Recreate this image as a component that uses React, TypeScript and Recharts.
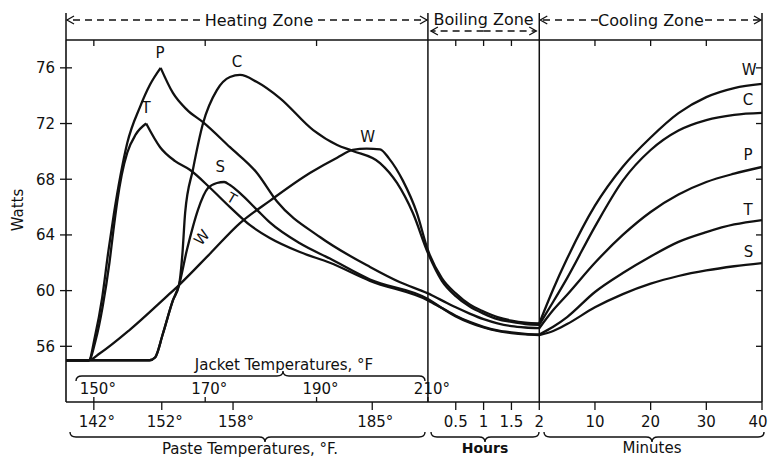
import { LineChart, Line, XAxis, YAxis, ReferenceLine } from 'recharts'

// x axis positions: heating zone in jacket °F, boiling zone = 210 + 10 * hours, cooling zone = 230 + minutes
const X_MIN = 145
const X_MAX = 270
const Y_MIN = 52
const Y_MAX = 78

const WATT_TICKS = [56, 60, 64, 68, 72, 76]
const JACKET_TICKS = [150, 170, 190, 210]
const PASTE_LABELS = ['142°', '152°', '158°', '185°']
const PASTE_AT_JACKET = [150, 162.2, 175, 200]
const HOUR_TICKS = [0.5, 1, 1.5, 2]
const MINUTE_TICKS = [10, 20, 30, 40]

const BOIL_HOURS = [0.25, 0.5, 0.75, 1, 1.25, 1.5, 1.75, 2]
const COOL_MINUTES = [0, 2.5, 5, 10, 15, 20, 25, 30, 35, 40]

// heating zone, jacket temperature (°F) -> watts
const P_HEAT_F = [145, 149.1, 150.2, 151.5, 152.6, 153.6, 154.8, 156.0, 158.3, 160.1, 162.0, 164.2, 166.7, 169.6, 174.45, 179.3, 182.9, 190.6, 199.6, 205.0, 210]
const P_HEAT_W = [55, 55, 56.7, 59.5, 62.8, 65.5, 68.3, 70.6, 73.2, 74.8, 76.0, 74.2, 73.0, 72.1, 70.3, 68.45, 66.4, 63.85, 61.7, 60.6, 59.8]
const T_HEAT_F = [145, 149.1, 150.3, 151.6, 152.8, 153.6, 154.2, 155.0, 156.0, 157.5, 159.4, 161.9, 164.6, 167.3, 170.9, 174.45, 178.05, 181.6, 187.0, 192.4, 199.6, 210]
const T_HEAT_W = [55, 55, 56.4, 58.9, 62.0, 64.6, 66.4, 68.3, 69.9, 71.2, 72.0, 70.3, 69.3, 68.66, 67.37, 66.0, 64.7, 63.78, 62.77, 62.0, 60.7, 59.3]
const C_HEAT_F = [145, 160.0, 161.0, 162.4, 164.2, 165.3, 165.9, 166.4, 167.8, 169.6, 172.1, 174.45, 176.25, 179.3, 183.4, 189.4, 193.7, 196.5, 201.4, 204.45, 207.3, 210]
const C_HEAT_W = [55, 55, 55.2, 56.9, 59.3, 60.4, 62.6, 65.6, 68.7, 72.0, 74.4, 75.34, 75.49, 74.98, 73.83, 71.53, 70.46, 70.03, 69.16, 67.73, 65.57, 62.7]
const S_HEAT_F = [145, 160.0, 161.0, 162.4, 164.2, 165.3, 166.7, 167.8, 168.7, 170.5, 172.1, 173.4, 174.45, 176.25, 179.3, 181.6, 187.0, 192.4, 199.6, 210]
const S_HEAT_W = [55, 55, 55.2, 56.9, 59.3, 60.4, 62.9, 64.6, 65.8, 67.37, 67.73, 67.8, 67.58, 67.0, 65.8, 64.9, 63.4, 62.3, 60.8, 59.4]
const W_HEAT_F = [145, 149.1, 151.1, 156.5, 163.0, 165.3, 170.9, 176.25, 181.6, 188.8, 193.7, 196.5, 199.0, 201.4, 203.0, 205.5, 208.0, 210]
const W_HEAT_W = [55, 55, 55.5, 57.2, 59.55, 60.4, 62.67, 64.85, 66.45, 68.45, 69.55, 70.1, 70.2, 70.15, 69.5, 67.9, 65.6, 62.9]

// boiling zone (hours) -> watts
const W_BOIL = [60.9, 59.8, 59.0, 58.5, 58.1, 57.85, 57.7, 57.65]
const C_BOIL = [60.7, 59.6, 58.85, 58.35, 57.95, 57.75, 57.6, 57.55]
const P_BOIL = [59.3, 58.8, 58.35, 57.95, 57.65, 57.45, 57.35, 57.3]
const T_BOIL = [58.75, 58.2, 57.75, 57.4, 57.15, 57.0, 56.9, 56.85]
const S_BOIL = [58.75, 58.15, 57.7, 57.35, 57.1, 56.95, 56.85, 56.8]

// cooling zone (minutes) -> watts
const W_COOL = [57.65, 60.1, 62.3, 66.1, 68.9, 71.0, 72.75, 73.9, 74.55, 74.85]
const C_COOL = [57.55, 59.2, 60.9, 64.6, 67.9, 70.1, 71.5, 72.25, 72.62, 72.76]
const P_COOL = [57.3, 58.6, 59.7, 62.0, 64.0, 65.65, 66.9, 67.8, 68.4, 68.88]
const T_COOL = [56.85, 57.4, 58.1, 59.9, 61.26, 62.45, 63.5, 64.2, 64.75, 65.07]
const S_COOL = [56.8, 57.1, 57.6, 58.8, 59.75, 60.5, 61.05, 61.45, 61.75, 61.98]

const boilPos = (h: number) => 210 + 10 * h
const coolPos = (m: number) => 230 + m

const CURVES = [
  { key: 'P', heatF: P_HEAT_F, heatW: P_HEAT_W, boil: P_BOIL, cool: P_COOL, peak: 162.0 },
  { key: 'T', heatF: T_HEAT_F, heatW: T_HEAT_W, boil: T_BOIL, cool: T_COOL, peak: 159.4 },
  { key: 'C', heatF: C_HEAT_F, heatW: C_HEAT_W, boil: C_BOIL, cool: C_COOL, peak: null },
  { key: 'S', heatF: S_HEAT_F, heatW: S_HEAT_W, boil: S_BOIL, cool: S_COOL, peak: null },
  { key: 'W', heatF: W_HEAT_F, heatW: W_HEAT_W, boil: W_BOIL, cool: W_COOL, peak: null },
]

// curve letters, placed in chart units
const CURVE_LABELS = [
  { t: 'P', x: 161.9, w: 77.05, r: 0, s: 15 },
  { t: 'C', x: 175.7, w: 76.4, r: 0, s: 15 },
  { t: 'T', x: 159.4, w: 73.1, r: 0, s: 15 },
  { t: 'W', x: 199.2, w: 71.0, r: 0, s: 15 },
  { t: 'S', x: 172.7, w: 68.9, r: 0, s: 15 },
  { t: 'T', x: 174.8, w: 66.65, r: 30, s: 14 },
  { t: 'W', x: 169.4, w: 63.8, r: -50, s: 15 },
  { t: 'W', x: 267.7, w: 75.85, r: 0, s: 15 },
  { t: 'C', x: 267.5, w: 73.7, r: 0, s: 15 },
  { t: 'P', x: 267.5, w: 69.75, r: 0, s: 15 },
  { t: 'T', x: 267.5, w: 65.8, r: 0, s: 15 },
  { t: 'S', x: 267.6, w: 62.8, r: 0, s: 15 },
]

const W = 770
const H = 457
const M = { top: 40, right: 8, bottom: 0, left: 0 }
const Y_AXIS_W = 66
const X_AXIS_H = 55
const PL = M.left + Y_AXIS_W
const PT = M.top
const PW = W - M.right - PL
const PH = H - M.bottom - X_AXIS_H - PT
const px = (x: number) => PL + ((x - X_MIN) / (X_MAX - X_MIN)) * PW
const py = (w: number) => PT + ((Y_MAX - w) / (Y_MAX - Y_MIN)) * PH

const INK = '#111'
const FONT = '"DejaVu Sans", sans-serif'

function segments(c: (typeof CURVES)[number]) {
  const hb = [
    ...c.heatF.map((f, i) => ({ x: f, w: c.heatW[i] })),
    ...BOIL_HOURS.map((h, i) => ({ x: boilPos(h), w: c.boil[i] })),
  ]
  const parts = c.peak == null ? [hb] : [hb.filter((p) => p.x <= c.peak!), hb.filter((p) => p.x >= c.peak!)]
  parts.push(COOL_MINUTES.map((m, i) => ({ x: coolPos(m), w: c.cool[i] })))
  return parts
}

function brace(x1: number, x2: number, xc: number, y: number, cuspUp: boolean) {
  const d = cuspUp ? -1 : 1
  return `M${x1},${y - 5 * d} Q${x1},${y} ${x1 + 6},${y} L${xc - 6},${y} Q${xc},${y} ${xc},${y + 5 * d} Q${xc},${y} ${xc + 6},${y} L${x2 - 6},${y} Q${x2},${y} ${x2},${y - 5 * d}`
}

function Arrow({ x1, x2, y }: { x1: number; x2: number; y: number }) {
  const s = x2 > x1 ? 1 : -1
  return (
    <g stroke={INK} strokeWidth={1.3} fill="none">
      <line x1={x1} y1={y} x2={x2} y2={y} strokeDasharray="7 5" />
      <path d={`M${x2 - s * 7},${y - 4} L${x2},${y} L${x2 - s * 7},${y + 4}`} />
    </g>
  )
}

function Overlay() {
  const zl = [px(X_MIN), px(210), px(230), px(X_MAX)]
  const txt = { fontFamily: FONT, fill: INK, textAnchor: 'middle' as const, dominantBaseline: 'central' as const }
  return (
    <svg width={W} height={H} style={{ position: 'absolute', left: 0, top: 0, pointerEvents: 'none' }}>
      {zl.map((x, i) => (
        <line key={i} x1={x} x2={x} y1={13} y2={PT} stroke={INK} strokeWidth={1.5} />
      ))}
      <Arrow x1={200} x2={zl[0] + 1} y={20} />
      <Arrow x1={318} x2={zl[1] - 1} y={20} />
      <text x={259} y={20} fontSize={16} {...txt}>Heating Zone</text>
      <text x={(zl[1] + zl[2]) / 2} y={19} fontSize={16} {...txt}>Boiling Zone</text>
      <Arrow x1={(zl[1] + zl[2]) / 2} x2={zl[1] + 3} y={31} />
      <Arrow x1={(zl[1] + zl[2]) / 2} x2={zl[2] - 3} y={31} />
      <Arrow x1={598} x2={zl[2] + 1} y={20} />
      <Arrow x1={705} x2={zl[3] - 1} y={20} />
      <text x={651} y={20} fontSize={16} {...txt}>Cooling Zone</text>

      <text x={18} y={210} fontSize={15} {...txt} transform="rotate(-90 18 210)">Watts</text>

      <text x={284} y={365} fontSize={15} {...txt}>Jacket Temperatures, °F</text>
      <path d={brace(76, 425, 283, 376, true)} stroke={INK} strokeWidth={1.4} fill="none" />

      <path d={brace(70, 425, 265, 437, false)} stroke={INK} strokeWidth={1.4} fill="none" />
      <path d={brace(431, 539, 485, 437, false)} stroke={INK} strokeWidth={1.4} fill="none" />
      <path d={brace(544, 764, 652, 437, false)} stroke={INK} strokeWidth={1.4} fill="none" />
      <text x={250} y={449} fontSize={15} {...txt}>Paste Temperatures, °F.</text>
      <text x={485} y={448} fontSize={14} fontWeight={700} {...txt}>Hours</text>
      <text x={652} y={448} fontSize={15} {...txt}>Minutes</text>

      {CURVE_LABELS.map((l, i) => (
        <text
          key={i}
          x={px(l.x)}
          y={py(l.w)}
          fontSize={l.s}
          {...txt}
          transform={l.r ? `rotate(${l.r} ${px(l.x)} ${py(l.w)})` : undefined}
        >
          {l.t}
        </text>
      ))}
    </svg>
  )
}

const BOTTOM_TICKS = [...PASTE_AT_JACKET, ...HOUR_TICKS.map(boilPos), ...MINUTE_TICKS.map(coolPos)]
const BOTTOM_LABELS = [...PASTE_LABELS, ...HOUR_TICKS.map(String), ...MINUTE_TICKS.map(String)]
const TOP_TICKS = [150, 170, 190, ...[0.5, 1, 1.5].map(boilPos), ...[10, 20, 30].map(coolPos)]

function BottomTick(props: any) {
  const { x, y, payload } = props
  const label = BOTTOM_LABELS[BOTTOM_TICKS.indexOf(payload.value)] ?? ''
  // degree labels: keep digits centred over the tick; last label pulled in from the edge
  const dx = label.endsWith('°') ? 3 : payload.value >= X_MAX ? -4 : 0
  return (
    <text x={x + dx} y={y} dy="0.71em" textAnchor="middle" fontSize={15} fontFamily={FONT} fill={INK}>
      {label}
    </text>
  )
}

function JacketTick(props: any) {
  const { x, y, payload } = props
  return (
    <text x={x + 4} y={y} textAnchor="middle" fontSize={15} fontFamily={FONT} fill={INK}>
      {`${payload.value}°`}
    </text>
  )
}

export default function App() {
  const tick = { fill: INK, fontSize: 15, fontFamily: FONT }
  const axisLine = { stroke: INK, strokeWidth: 1.6 }
  const tickLine = { stroke: INK, strokeWidth: 1.3 }
  return (
    <div style={{ position: 'absolute', left: 0, top: 0, width: W, height: H, background: '#fff' }}>
      <LineChart width={W} height={H} margin={M}>
        <XAxis
          xAxisId="b"
          type="number"
          dataKey="x"
          domain={[X_MIN, X_MAX]}
          allowDataOverflow
          ticks={BOTTOM_TICKS}
          interval={0}
          height={X_AXIS_H}
          tickSize={8}
          tickMargin={6}
          tick={<BottomTick />}
          axisLine={axisLine}
          tickLine={tickLine}
        />
        <XAxis
          xAxisId="j"
          type="number"
          dataKey="x"
          domain={[X_MIN, X_MAX]}
          allowDataOverflow
          ticks={JACKET_TICKS}
          interval={0}
          mirror
          height={30}
          tickSize={5}
          tickMargin={3}
          tick={<JacketTick />}
          axisLine={false}
          tickLine={tickLine}
        />
        <XAxis
          xAxisId="t"
          type="number"
          dataKey="x"
          orientation="top"
          domain={[X_MIN, X_MAX]}
          allowDataOverflow
          ticks={TOP_TICKS}
          interval={0}
          mirror
          height={30}
          tickSize={6}
          tickFormatter={() => ''}
          axisLine={axisLine}
          tickLine={tickLine}
        />
        <YAxis
          yAxisId="w"
          type="number"
          domain={[Y_MIN, Y_MAX]}
          allowDataOverflow
          ticks={WATT_TICKS}
          interval={0}
          width={Y_AXIS_W}
          tickSize={6}
          tickMargin={5}
          tick={tick}
          axisLine={axisLine}
          tickLine={tickLine}
        />
        <YAxis
          yAxisId="wi"
          type="number"
          domain={[Y_MIN, Y_MAX]}
          allowDataOverflow
          ticks={WATT_TICKS}
          interval={0}
          mirror
          tickSize={6}
          tickFormatter={() => ''}
          axisLine={false}
          tickLine={tickLine}
        />
        <YAxis
          yAxisId="r"
          type="number"
          orientation="right"
          domain={[Y_MIN, Y_MAX]}
          allowDataOverflow
          ticks={WATT_TICKS}
          interval={0}
          mirror
          tickSize={6}
          tickFormatter={() => ''}
          axisLine={axisLine}
          tickLine={tickLine}
        />
        <ReferenceLine xAxisId="b" yAxisId="w" x={210} stroke={INK} strokeWidth={1.5} />
        <ReferenceLine xAxisId="b" yAxisId="w" x={230} stroke={INK} strokeWidth={1.5} />
        {CURVES.flatMap((c) =>
          segments(c).map((seg, j) => (
            <Line
              key={`${c.key}-${j}`}
              xAxisId="b"
              yAxisId="w"
              data={seg}
              dataKey="w"
              type="monotone"
              stroke={INK}
              strokeWidth={2.3}
              dot={false}
              activeDot={false}
              isAnimationActive={false}
            />
          )),
        )}
      </LineChart>
      <Overlay />
    </div>
  )
}
